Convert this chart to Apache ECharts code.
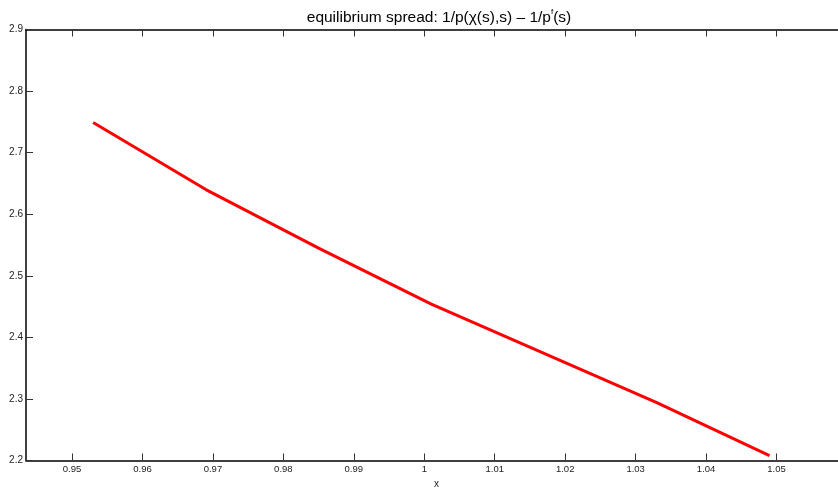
<!DOCTYPE html>
<html>
<head>
<meta charset="utf-8">
<title>equilibrium spread</title>
<script src="https://cdn.jsdelivr.net/npm/echarts@6/dist/echarts.min.js"></script>
<style>
  html, body { margin: 0; padding: 0; background: #fff; }
  #chart { width: 838px; height: 488px; }
</style>
</head>
<body>
<div id="chart"></div>
<script>
// Sample points of the spread curve
const xValues = [0.953, 0.969, 0.985, 1.001, 1.017, 1.033, 1.049];
const spreadValues = [2.749, 2.640, 2.545, 2.454, 2.374, 2.294, 2.208];

// Tick positions
const xTicks = [0.95, 0.96, 0.97, 0.98, 0.99, 1.0, 1.01, 1.02, 1.03, 1.04, 1.05];
const yTicks = [2.2, 2.3, 2.4, 2.5, 2.6, 2.7, 2.8, 2.9];

const FONT = '"Liberation Sans", Arial, Helvetica, sans-serif';
const INK = '#000';

const chart = echarts.init(document.getElementById('chart'), null, { renderer: 'canvas' });

const frameLine = { show: true, lineStyle: { color: INK, width: 1.5 } };
const innerTick = { show: true, inside: true, length: 7, lineStyle: { color: '#333', width: 1 } };

chart.setOption({
  animation: false,
  backgroundColor: '#fff',
  title: {
    text: '{a|equilibrium spread: 1/p(χ(s),s) – 1/p}{b|f}{a|(s)}',
    left: 434,
    textAlign: 'center',
    top: 3,
    textStyle: {
      fontWeight: 'normal',
      rich: {
        a: { fontFamily: FONT, fontSize: 15.5, fontWeight: 'normal', color: '#000', lineHeight: 20 },
        b: { fontFamily: FONT, fontSize: 8, fontWeight: 'normal', color: '#000', lineHeight: 20, verticalAlign: 'top', padding: [0, 0, 10, 0] }
      }
    }
  },
  grid: { left: 26, right: -9, top: 29.5, bottom: 27.5, containLabel: false, outerBoundsMode: 'none' },
  xAxis: [
    {
      type: 'value',
      position: 'bottom',
      min: 0.94347,
      max: 1.06,
      name: 'x',
      nameLocation: 'middle',
      nameGap: 17,
      nameTextStyle: { fontFamily: FONT, fontSize: 10, color: '#222' },
      axisLine: frameLine,
      axisTick: Object.assign({}, innerTick, { customValues: xTicks }),
      axisLabel: {
        customValues: xTicks,
        fontFamily: FONT, fontSize: 9.5, color: '#222', margin: 4,
        formatter: v => String(+v.toFixed(2))
      },
      splitLine: { show: false }
    },
    {
      type: 'value',
      position: 'top',
      min: 0.94347,
      max: 1.06,
      axisLine: frameLine,
      axisTick: Object.assign({}, innerTick, { customValues: xTicks }),
      axisLabel: { show: false },
      splitLine: { show: false }
    }
  ],
  yAxis: {
    type: 'value',
    min: 2.2,
    max: 2.9,
    axisLine: frameLine,
    axisTick: Object.assign({}, innerTick, { customValues: yTicks }),
    axisLabel: {
      customValues: yTicks,
      fontFamily: FONT, fontSize: 10, color: '#222', margin: 3,
      formatter: v => v.toFixed(1)
    },
    splitLine: { show: false }
  },
  series: [{
    type: 'line',
    data: xValues.map((x, i) => [x, spreadValues[i]]),
    showSymbol: false,
    lineStyle: { color: '#ff0000', width: 3 },
    clip: false
  }]
});
</script>
</body>
</html>
